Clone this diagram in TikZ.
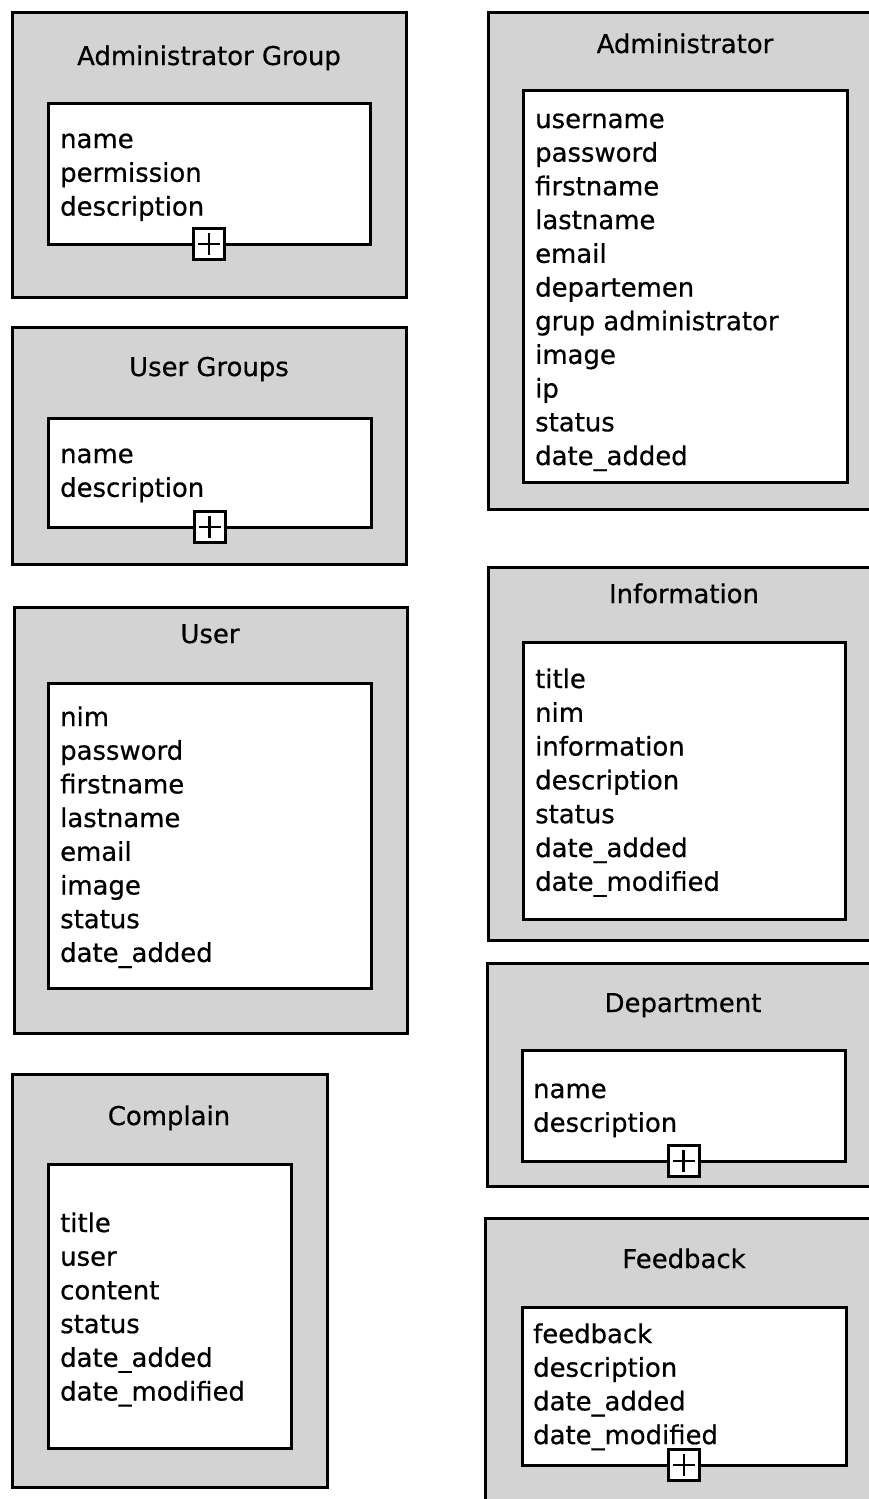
\documentclass[tikz,border=0pt]{standalone}
\usepackage{fontspec}
\setmainfont[FakeBold=0.6]{DejaVu Sans}
\definecolor{boxgray}{RGB}{211,211,211}
\begin{document}
\begin{tikzpicture}[x=1pt,y=-1pt,
  outerbox/.style={draw, line width=3pt, fill=boxgray, anchor=north west, inner sep=0pt, outer sep=0pt},
  innerbox/.style={draw, line width=3pt, fill=white, anchor=north west, inner sep=0pt, outer sep=0pt},
  titletext/.style={anchor=base, inner sep=0pt, font=\fontsize{25.9}{30}\selectfont},
  fieldtext/.style={anchor=base west, inner sep=0pt, font=\fontsize{25.9}{30}\selectfont},
  plusbox/.style={draw, line width=3pt, fill=white, minimum size=31pt, inner sep=0pt,
    path picture={\draw[line width=2.8pt]
      ([xshift=-11pt]path picture bounding box.center) -- ([xshift=11pt]path picture bounding box.center)
      ([yshift=-11pt]path picture bounding box.center) -- ([yshift=11pt]path picture bounding box.center);}}]
\useasboundingbox (0,0) rectangle (869,1499);

% Administrator Group
\node[outerbox, minimum width=394pt, minimum height=285pt] (agO) at (12,12) {};
\node[titletext] (agT) at (209,65) {Administrator Group};
\node[innerbox, minimum width=322pt, minimum height=141pt] (agI) at (48,103) {};
\foreach \t [count=\i] in {name,permission,description}
  \node[fieldtext] (agF\i) at (60,{148+(\i-1)*33.8}) {\t};
\node[plusbox] (agP) at (agI.south) {};

% User Groups
\node[outerbox, minimum width=394pt, minimum height=237pt] (ugO) at (12,327) {};
\node[titletext] (ugT) at (209,376) {User Groups};
\node[innerbox, minimum width=323pt, minimum height=109pt] (ugI) at (48,418) {};
\foreach \t [count=\i] in {name,description}
  \node[fieldtext] (ugF\i) at (60,{463+(\i-1)*33.8}) {\t};
\node[plusbox] (ugP) at (ugI.south) {};

% User
\node[outerbox, minimum width=393pt, minimum height=426pt] (uO) at (14,607) {};
\node[titletext] (uT) at (210,643) {User};
\node[innerbox, minimum width=323pt, minimum height=305pt] (uI) at (48,683) {};
\foreach \t [count=\i] in {nim,password,firstname,lastname,email,image,status,date\_added}
  \node[fieldtext] (uF\i) at (60,{726+(\i-1)*33.7}) {\t};

% Complain
\node[outerbox, minimum width=315pt, minimum height=413pt] (cO) at (12,1074) {};
\node[titletext] (cT) at (169,1125) {Complain};
\node[innerbox, minimum width=243pt, minimum height=284pt] (cI) at (48,1164) {};
\foreach \t [count=\i] in {title,user,content,status,date\_added,date\_modified}
  \node[fieldtext] (cF\i) at (60,{1232+(\i-1)*33.7}) {\t};

% Administrator
\node[outerbox, minimum width=392pt, minimum height=497pt] (aO) at (488,12) {};
\node[titletext] (aT) at (685,53) {Administrator};
\node[innerbox, minimum width=324pt, minimum height=392pt] (aI) at (523,90) {};
\foreach \t [count=\i] in {username,password,firstname,lastname,email,departemen,grup administrator,image,ip,status,date\_added}
  \node[fieldtext] (aF\i) at (535,{128+(\i-1)*33.7}) {\t};

% Information
\node[outerbox, minimum width=392pt, minimum height=373pt] (iO) at (488,567) {};
\node[titletext] (iT) at (684,603) {Information};
\node[innerbox, minimum width=322pt, minimum height=277pt] (iI) at (523,642) {};
\foreach \t [count=\i] in {title,nim,information,description,status,date\_added,date\_modified}
  \node[fieldtext] (iF\i) at (535,{688+(\i-1)*33.8}) {\t};

% Department
\node[outerbox, minimum width=393pt, minimum height=223pt] (dO) at (487,963) {};
\node[titletext] (dT) at (683,1012) {Department};
\node[innerbox, minimum width=323pt, minimum height=111pt] (dI) at (522,1050) {};
\foreach \t [count=\i] in {name,description}
  \node[fieldtext] (dF\i) at (533,{1098+(\i-1)*33.8}) {\t};
\node[plusbox] (dP) at (dI.south) {};

% Feedback
\node[outerbox, minimum width=395pt, minimum height=302pt] (fO) at (485,1218) {};
\node[titletext] (fT) at (684,1268) {Feedback};
\node[innerbox, minimum width=324pt, minimum height=158pt] (fI) at (522,1307) {};
\foreach \t [count=\i] in {feedback,description,date\_added,date\_modified}
  \node[fieldtext] (fF\i) at (533,{1343+(\i-1)*33.7}) {\t};
\node[plusbox] (fP) at (fI.south) {};
\end{tikzpicture}
\end{document}
